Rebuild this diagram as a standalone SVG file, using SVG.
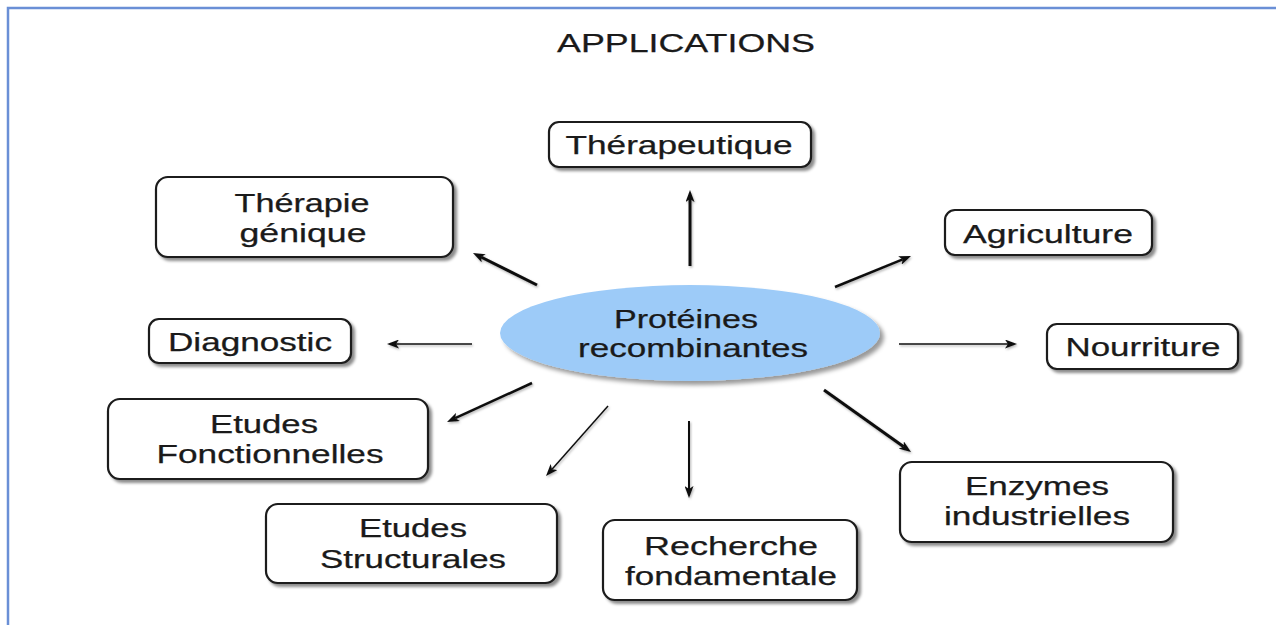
<svg xmlns="http://www.w3.org/2000/svg" width="1276" height="625" viewBox="0 0 1276 625">
<defs>
<style>
.box{fill:#fff;stroke:#1a1a1a;stroke-width:2.2;filter:url(#sh)}
.t{font-family:"Liberation Sans","DejaVu Sans",sans-serif;font-size:25px;fill:#1a1a1a;stroke:#1a1a1a;stroke-width:0.25;text-anchor:middle}
.c{stroke:#111;fill:none;marker-end:url(#ah)}
</style>
<filter id="sh" x="-10%" y="-20%" width="130%" height="150%">
<feDropShadow dx="3" dy="3" stdDeviation="1.6" flood-color="#000" flood-opacity="0.45"/>
</filter>
<filter id="esh" x="-10%" y="-20%" width="130%" height="150%">
<feDropShadow dx="4" dy="4" stdDeviation="2" flood-color="#000" flood-opacity="0.4"/>
</filter>
<filter id="lsh" x="-10%" y="-30%" width="130%" height="160%">
<feDropShadow dx="1" dy="1.5" stdDeviation="0.8" flood-color="#000" flood-opacity="0.3"/>
</filter>
<marker id="ah" markerUnits="userSpaceOnUse" markerWidth="12" markerHeight="9" refX="3" refY="4.5" orient="auto">
<path d="M0,0 L12,4.5 L0,9 L3,4.5 z" fill="#111"/>
</marker>
</defs>
<rect x="0" y="0" width="1276" height="625" fill="#fff"/>
<path d="M8,625 L8,8 L1276,8" fill="none" stroke="#6a8fd6" stroke-width="2.5"/>
<g id="title">
<text class="t" x="686" y="52" style="font-size:26px" textLength="258" lengthAdjust="spacingAndGlyphs">APPLICATIONS</text>
<line x1="44" y1="96.5" x2="1276" y2="96.5" stroke="#111" stroke-width="2" filter="url(#lsh)"/>
</g>
<g id="connectors" filter="url(#lsh)">
<path class="c" stroke-width="3" d="M690,266 L690,199"/>
<path class="c" stroke-width="3" d="M537,285 L481,257"/>
<path class="c" stroke-width="2.5" d="M835,287 L902.7,259.4"/>
<path class="c" stroke-width="1.5" d="M472,344 L396,344"/>
<path class="c" stroke-width="1.5" d="M899,344 L1008,344"/>
<path class="c" stroke-width="2.5" d="M532,383 L455.2,418.2"/>
<path class="c" stroke-width="1.5" d="M608,406 L552,469.3"/>
<path class="c" stroke-width="2" d="M689,421 L689,489"/>
<path class="c" stroke-width="3" d="M824,390 L903.7,446.8"/>
</g>
<g id="center">
<ellipse cx="690" cy="333" rx="190" ry="48" fill="#9dcbf8" filter="url(#esh)"/>
<text class="t" x="686" y="328" textLength="144" lengthAdjust="spacingAndGlyphs">Protéines</text>
<text class="t" x="693" y="357" textLength="230" lengthAdjust="spacingAndGlyphs">recombinantes</text>
</g>
<g id="therapeutique">
<rect class="box" x="549" y="122" width="262" height="45" rx="10"/>
<text class="t" x="679" y="154" textLength="227" lengthAdjust="spacingAndGlyphs">Thérapeutique</text>
</g>
<g id="therapie-genique">
<rect class="box" x="156" y="177" width="297" height="80" rx="12"/>
<text class="t" x="302" y="212" textLength="135" lengthAdjust="spacingAndGlyphs">Thérapie</text>
<text class="t" x="303" y="242" textLength="127" lengthAdjust="spacingAndGlyphs">génique</text>
</g>
<g id="agriculture">
<rect class="box" x="945" y="210" width="207" height="45" rx="10"/>
<text class="t" x="1048" y="243" textLength="170" lengthAdjust="spacingAndGlyphs">Agriculture</text>
</g>
<g id="diagnostic">
<rect class="box" x="149" y="319" width="202" height="44" rx="10"/>
<text class="t" x="250" y="351" textLength="164" lengthAdjust="spacingAndGlyphs">Diagnostic</text>
</g>
<g id="nourriture">
<rect class="box" x="1047" y="324" width="191" height="45" rx="10"/>
<text class="t" x="1143" y="356" textLength="155" lengthAdjust="spacingAndGlyphs">Nourriture</text>
</g>
<g id="etudes-fonctionnelles">
<rect class="box" x="108" y="399" width="320" height="80" rx="12"/>
<text class="t" x="264" y="433" textLength="108" lengthAdjust="spacingAndGlyphs">Etudes</text>
<text class="t" x="270" y="463" textLength="227" lengthAdjust="spacingAndGlyphs">Fonctionnelles</text>
</g>
<g id="enzymes-industrielles">
<rect class="box" x="900" y="462" width="273" height="80" rx="12"/>
<text class="t" x="1037" y="495" textLength="144" lengthAdjust="spacingAndGlyphs">Enzymes</text>
<text class="t" x="1037" y="525" textLength="186" lengthAdjust="spacingAndGlyphs">industrielles</text>
</g>
<g id="etudes-structurales">
<rect class="box" x="266" y="504" width="291" height="79" rx="12"/>
<text class="t" x="413" y="537" textLength="108" lengthAdjust="spacingAndGlyphs">Etudes</text>
<text class="t" x="413" y="568" textLength="186" lengthAdjust="spacingAndGlyphs">Structurales</text>
</g>
<g id="recherche-fondamentale">
<rect class="box" x="603" y="520" width="254" height="80" rx="12"/>
<text class="t" x="731" y="555" textLength="174" lengthAdjust="spacingAndGlyphs">Recherche</text>
<text class="t" x="731" y="585" textLength="212" lengthAdjust="spacingAndGlyphs">fondamentale</text>
</g>
</svg>
